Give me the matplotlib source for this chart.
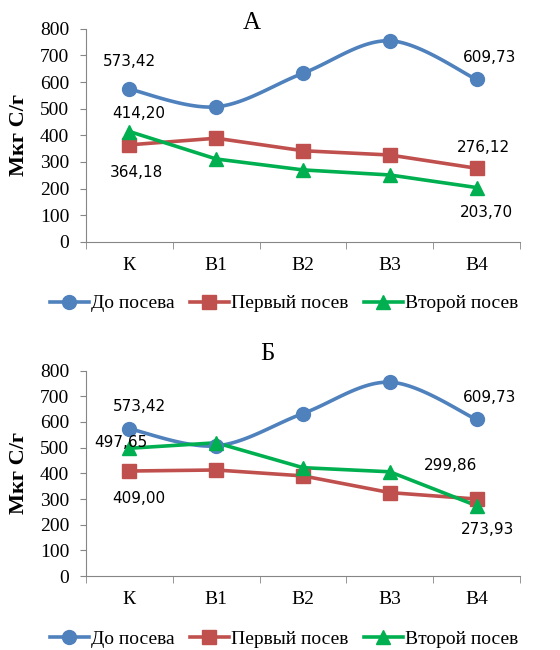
import numpy as np
import matplotlib.pyplot as plt

categories = ["К", "В1", "В2", "В3", "В4"]
series_names = ["До посева", "Первый посев", "Второй посев"]

# panel А
a_before = [573.42, 507, 633, 755, 609.73]
a_first = [364.18, 389, 342, 326, 276.12]
a_second = [414.20, 311, 270, 251, 203.70]

# panel Б
b_before = [573.42, 507, 633, 755, 609.73]
b_first = [409.00, 413, 390, 325, 299.86]
b_second = [497.65, 519, 422, 406, 273.93]

colors = ["#4F81BD", "#C0504D", "#00B050"]
markers = ["o", "s", "^"]
serif = "Liberation Serif"


def smooth(xs, ys, n=30):
    # catmull-rom style curve through the points, like excel's smoothed line
    xs = np.asarray(xs, float)
    ys = np.asarray(ys, float)
    px = np.concatenate([[xs[0]], xs, [xs[-1]]])
    py = np.concatenate([[ys[0]], ys, [ys[-1]]])
    outx, outy = [], []
    for i in range(1, len(px) - 2):
        t = np.linspace(0, 1, n)
        h00 = 2 * t**3 - 3 * t**2 + 1
        h10 = t**3 - 2 * t**2 + t
        h01 = -2 * t**3 + 3 * t**2
        h11 = t**3 - t**2
        mx0 = (px[i + 1] - px[i - 1]) / 2
        mx1 = (px[i + 2] - px[i]) / 2
        my0 = (py[i + 1] - py[i - 1]) / 2
        my1 = (py[i + 2] - py[i]) / 2
        outx.extend(h00 * px[i] + h10 * mx0 + h01 * px[i + 1] + h11 * mx1)
        outy.extend(h00 * py[i] + h10 * my0 + h01 * py[i + 1] + h11 * my1)
    return outx, outy


def draw_panel(ax, data, labels):
    x = np.arange(len(categories))
    handles = []
    for k, (vals, c, m) in enumerate(zip(data, colors, markers)):
        if k == 0:
            sx, sy = smooth(x, vals)
            ax.plot(sx, sy, color=c, lw=2.6, zorder=2)
        else:
            ax.plot(x, vals, color=c, lw=2.6, zorder=2)
        ax.plot(x, vals, ls="none", marker=m, ms=10, color=c, zorder=3)
        h, = ax.plot([], [], color=c, lw=2.6, marker=m, ms=10)
        handles.append(h)
    for (si, pi, dx, dy) in labels:
        v = data[si][pi]
        ax.annotate(f"{v:.2f}".replace(".", ","), (pi, v), xytext=(dx, dy),
                    textcoords="offset points", ha="center", va="center",
                    fontsize=11, fontfamily="DejaVu Sans", color="black")
    ax.set_xlim(-0.5, 4.5)
    ax.set_ylim(0, 800)
    ax.set_yticks(range(0, 801, 100))
    ax.set_xticks(x)
    ax.set_xticklabels(categories)
    ax.set_xticks(np.arange(-0.5, 4.6, 1), minor=True)
    ax.tick_params(axis="x", which="major", length=0, pad=11)
    ax.tick_params(axis="x", which="minor", length=5, color="#868686")
    ax.tick_params(axis="y", length=4, color="#868686", pad=8)
    for lab in ax.get_xticklabels() + ax.get_yticklabels():
        lab.set_fontfamily(serif)
        lab.set_fontsize(14)
    for s in ["top", "right"]:
        ax.spines[s].set_visible(False)
    for s in ["left", "bottom"]:
        ax.spines[s].set_color("#868686")
    ax.set_ylabel("Мкг С/г", fontfamily=serif, fontweight="bold", fontsize=16, labelpad=8)
    return handles


fig = plt.figure(figsize=(5.6, 6.5), dpi=100)

ax1 = fig.add_axes([0.1536, 0.628, 0.775, 0.3277])
h = draw_panel(ax1, [a_before, a_first, a_second],
               [(0, 0, 0, 20), (0, 4, 9, 16), (2, 0, 7, 13), (1, 0, 5, -20),
                (1, 4, 5, 15), (2, 4, 7, -18)])
fig.text(0.45, 0.965, "А", ha="center", va="center", fontfamily=serif, fontsize=18)
fig.legend(h, series_names, loc="center", bbox_to_anchor=(0.507, 0.533), ncol=3,
           frameon=False, prop={"family": serif, "size": 14},
           handlelength=2.0, handletextpad=0.1, columnspacing=0.8)

ax2 = fig.add_axes([0.1536, 0.1138, 0.775, 0.316])
h = draw_panel(ax2, [b_before, b_first, b_second],
               [(0, 0, 7, 16), (0, 4, 9, 16), (2, 0, -6, 4), (1, 0, 7, -20),
                (1, 4, -19, 24), (2, 4, 8, -17)])
fig.text(0.477, 0.456, "Б", ha="center", va="center", fontfamily=serif, fontsize=18)
fig.legend(h, series_names, loc="center", bbox_to_anchor=(0.507, 0.0165), ncol=3,
           frameon=False, prop={"family": serif, "size": 14},
           handlelength=2.0, handletextpad=0.1, columnspacing=0.8)

fig.savefig("out.png", dpi=100)
